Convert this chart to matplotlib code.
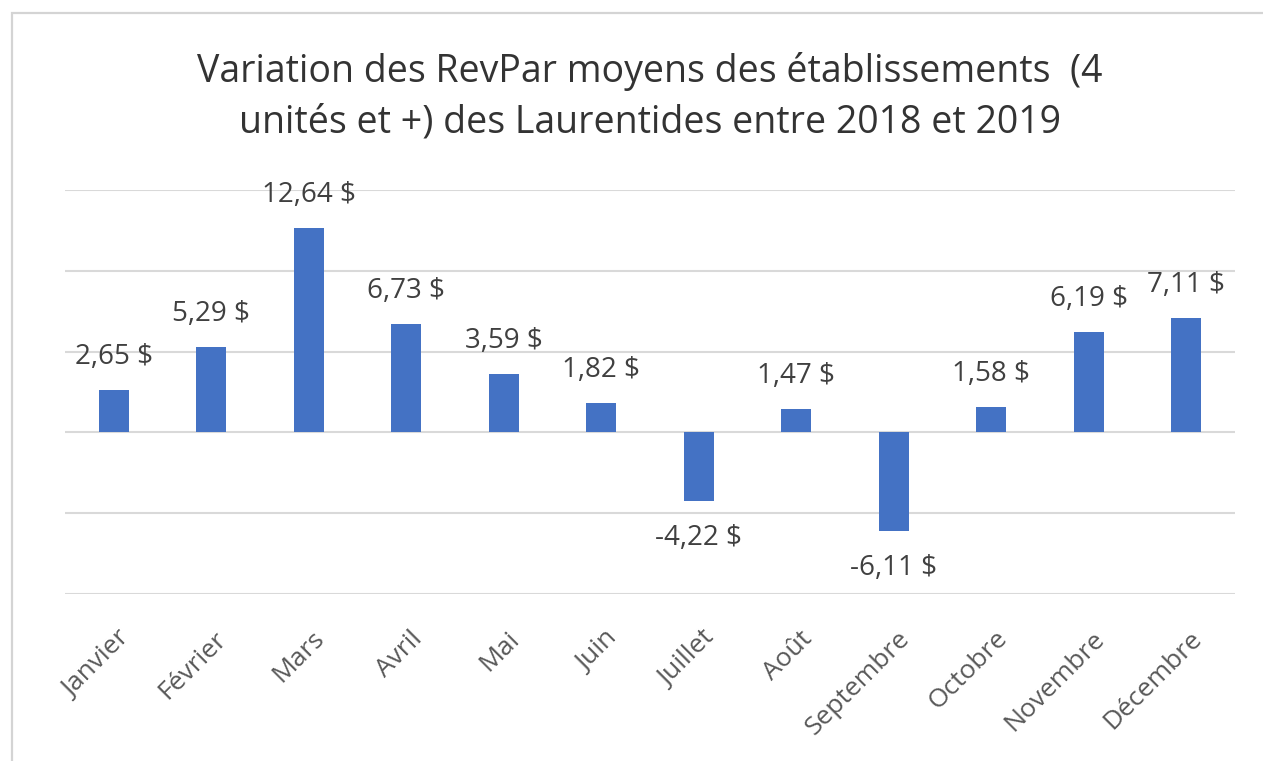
import matplotlib
matplotlib.use("Agg")
import matplotlib.pyplot as plt
from matplotlib.patches import Rectangle
from matplotlib.transforms import offset_copy, blended_transform_factory

months = ["Janvier", "Février", "Mars", "Avril", "Mai", "Juin", "Juillet",
          "Août", "Septembre", "Octobre", "Novembre", "Décembre"]
values = [2.65, 5.29, 12.64, 6.73, 3.59, 1.82, -4.22, 1.47, -6.11, 1.58, 6.19, 7.11]
title_lines = ["Variation des RevPar moyens des établissements  (4",
               "unités et +) des Laurentides entre 2018 et 2019"]

plt.rcParams['font.family'] = ['Open Sans', 'DejaVu Sans']

W, H = 1263, 761
fig = plt.figure(figsize=(W / 100, H / 100), dpi=100)
fig.patch.set_facecolor('white')

# outer chart border
fig.patches.append(Rectangle((12 / W, -0.05), 1.2, 1 - 13 / H + 0.05,
                             transform=fig.transFigure, fill=False,
                             edgecolor='#d4d4d4', linewidth=1.6, zorder=0))

ax = fig.add_axes([65 / W, 1 - 594 / H, (1235 - 65) / W, (594 - 190) / H])
x = list(range(len(months)))
ax.bar(x, values, width=0.31, color='#4472C4', zorder=3)
ax.set_xlim(-0.5, len(months) - 0.5)
ax.set_ylim(-10, 15)
ax.set_yticks([-10, -5, 0, 5, 10, 15])
ax.yaxis.grid(True, color='#d9d9d9', linewidth=1.5, zorder=0)
ax.set_axisbelow(True)
for s in ax.spines.values():
    s.set_visible(False)
ax.tick_params(axis='both', length=0, labelleft=False, labelbottom=False)
ax.set_xticks(x)

# data labels
for xi, v in zip(x, values):
    label = f"{v:.2f} $".replace('.', ',')
    if v >= 0:
        tr = offset_copy(ax.transData, fig=fig, x=0, y=26, units='dots')
    else:
        tr = offset_copy(ax.transData, fig=fig, x=0, y=-44, units='dots')
    ax.text(xi, v, label, transform=tr, ha='center', va='baseline',
            fontsize=20, color='#404040')

# rotated month labels
bt = blended_transform_factory(ax.transData, ax.transAxes)
for xi, m in zip(x, months):
    tr = offset_copy(bt, fig=fig, x=12, y=-41, units='dots')
    ax.text(xi, 0, m, transform=tr, rotation=45, rotation_mode='anchor',
            ha='right', va='center', fontsize=19, color='#595959')

for i, line in enumerate(title_lines):
    fig.text(650 / W, 1 - (82 + 51 * i) / H, line, ha='center', va='baseline',
             fontsize=27, color='#333333')

fig.savefig('out.png', dpi=100, facecolor='white')
